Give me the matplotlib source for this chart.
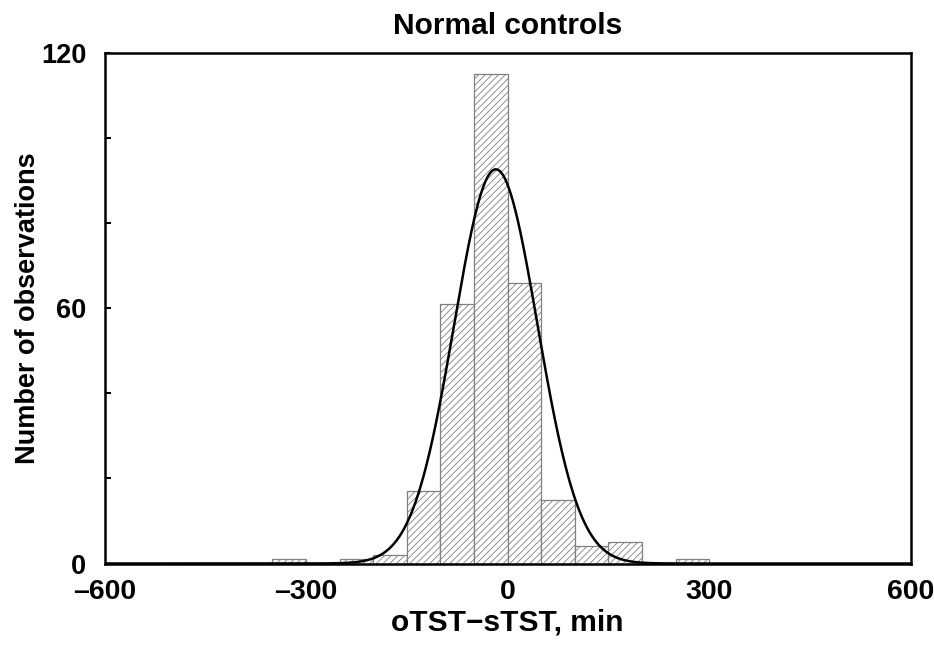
import numpy as np
import matplotlib
matplotlib.use("Agg")
import matplotlib.pyplot as plt

# Data
bin_left = [-350, -250, -200, -150, -100, -50, 0, 50, 100, 150, 250]
counts = [1, 1, 2, 17, 61, 115, 66, 15, 4, 5, 1]
bin_width = 50
fit_mean = -17.5
fit_sd = 62.0
x_ticks = [-600, -300, 0, 300, 600]
y_ticks = [0, 60, 120]

plt.rcParams['font.family'] = ['Liberation Sans', 'DejaVu Sans']
plt.rcParams['font.weight'] = 'bold'
plt.rcParams['hatch.linewidth'] = 0.6
plt.rcParams['hatch.color'] = '#707070'

fig = plt.figure(figsize=(9.34, 6.46), dpi=100)
ax = fig.add_axes([0.1119, 0.1277, 0.975 - 0.1119, 0.918 - 0.1277])

ax.bar(bin_left, counts, width=bin_width, align='edge', facecolor='white',
       edgecolor='#808080', linewidth=0.9, hatch='/////', zorder=2)

n_total = sum(counts)
xs = np.linspace(-600, 600, 1201)
ys = n_total * bin_width / (fit_sd * np.sqrt(2 * np.pi)) * np.exp(-0.5 * ((xs - fit_mean) / fit_sd) ** 2)
ax.plot(xs, ys, color='black', lw=1.8, zorder=3)

ax.set_xlim(-600, 600)
ax.set_ylim(0, 120)
ax.set_xticks(x_ticks)
ax.set_xticklabels([f"{v:d}".replace('-', '\u2013') for v in x_ticks])
ax.set_yticks(y_ticks)
ax.set_yticks([20, 40, 80, 100], minor=True)
ax.tick_params(axis='x', length=0, pad=11, labelsize=20.5)
ax.tick_params(axis='y', which='both', direction='in', length=4, width=1.5, pad=13, labelsize=19.5)
for t in ax.get_xticklabels() + ax.get_yticklabels():
    t.set_fontweight('bold')

for s in ax.spines.values():
    s.set_linewidth(1.8)
    s.set_zorder(4)

ax.set_title('Normal controls', fontsize=21.5, fontweight='bold', pad=14)
ax.set_xlabel('oTST\u2212sTST, min', fontsize=21.5, fontweight='bold', labelpad=3)
ax.set_ylabel('Number of observations', fontsize=19.5, fontweight='bold')
ax.yaxis.set_label_coords(-0.079, 0.5)

fig.savefig('out.png', dpi=100)
